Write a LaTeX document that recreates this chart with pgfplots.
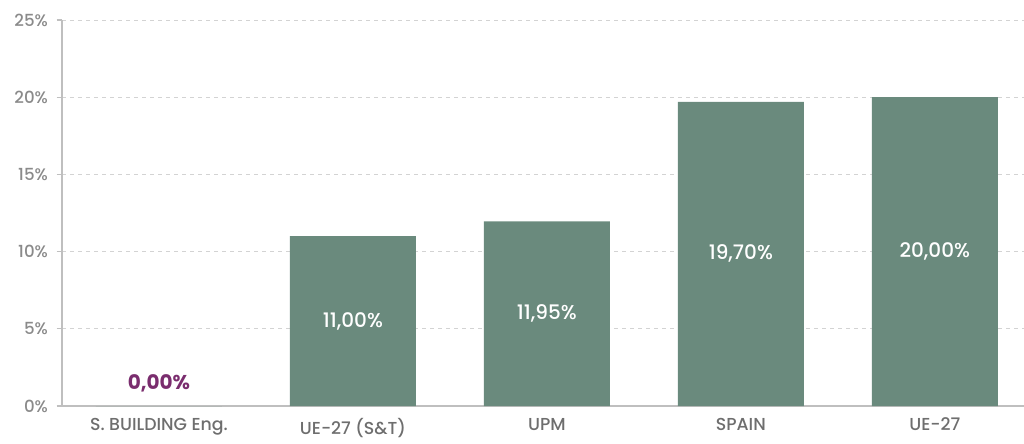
\documentclass[border=0pt]{standalone}
\usepackage{pgfplots}
\pgfplotsset{compat=1.18}
\usepackage{fontspec}
\setmainfont{Poppins}
\newfontfamily\medfont{Poppins Medium}
\definecolor{barc}{HTML}{6A8A7D}
\definecolor{axc}{HTML}{BFBFBF}
\definecolor{gridc}{HTML}{D3D3D3}
\definecolor{tickc}{HTML}{8A8A8A}
\definecolor{labc}{HTML}{6E6E6E}
\definecolor{purp}{HTML}{7A2D6E}
\begin{document}
\begin{tikzpicture}
\begin{axis}[
  name=ax,
  scale only axis,
  width=721.5pt, height=289.5pt,
  xmin=-0.5, xmax=4.46,
  ymin=0, ymax=25,
  axis x line*=bottom, axis y line*=left,
  axis line style={draw=axc, line width=0.9pt, -},
  ytick={0,5,10,15,20,25},
  yticklabel={\pgfmathprintnumber{\tick}\%},
  /pgf/number format/assume math mode=true,
  yticklabel style={font=\medfont\fontsize{12.5}{14}\selectfont, color=tickc, xshift=-3pt},
  ymajorgrids,
  major grid style={draw=gridc, dash pattern=on 3pt off 3pt, line width=0.6pt},
  xtick={0,1,2,3,4},
  xticklabels={S. BUILDING Eng., UE-27 (S\&T), UPM, SPAIN, UE-27},
  xticklabel style={font=\medfont\fontsize{13}{15}\selectfont, color=labc, yshift=-1.5pt},
  major x tick style={draw=none},
  extra x ticks={0.5,1.5,2.5,3.5},
  extra x tick labels={},
  extra x tick style={grid=none, major tick length=5pt, tick style={draw=axc, line width=0.9pt}, tick pos=bottom, tick align=outside},
  major y tick style={draw=axc, line width=0.9pt},
  major tick length=4pt,
  tick align=outside,
  clip=false,
]
\addplot[ybar, bar width=94.5pt, fill=barc, draw=none] coordinates {(0,0) (1,11.00) (2,11.95) (3,19.70) (4,20.00)};
\addplot[draw=none, nodes near coords, point meta=explicit symbolic,
  every node near coord/.append style={anchor=center, color=white, font=\medfont\fontsize{15}{17}\selectfont}]
  coordinates {(1,5.50) [11,00\%] (2,5.975) [11,95\%] (3,9.85) [19,70\%] (4,10.00) [20,00\%]};
\addplot[draw=none, nodes near coords, point meta=explicit symbolic,
  every node near coord/.append style={anchor=center, color=purp, font=\bfseries\fontsize{15}{17}\selectfont}]
  coordinates {(0,1.5) [0,00\%]};
\end{axis}
\pgfresetboundingbox
\path[use as bounding box] ([xshift=-46.5pt,yshift=-27.75pt]ax.south west) rectangle ([yshift=15pt]ax.north east);
\end{tikzpicture}
\end{document}
